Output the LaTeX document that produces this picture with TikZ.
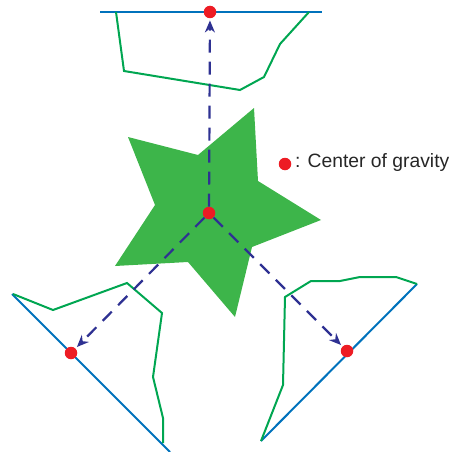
\documentclass[tikz,border=0pt]{standalone}
\usepackage{fontspec}
\setmainfont{Liberation Sans}
\usetikzlibrary{arrows.meta}
\definecolor{starfill}{RGB}{61,181,74}
\definecolor{outline}{RGB}{0,166,81}
\definecolor{surface}{RGB}{0,114,188}
\definecolor{cgred}{RGB}{237,28,36}
\definecolor{navy}{RGB}{46,49,146}
\tikzset{
  dot/.style={circle,fill=cgred,draw=none,minimum size=12.5pt,inner sep=0pt},
  shapeline/.style={draw=outline,line width=2pt,line join=miter},
  baseline/.style={draw=surface,line width=2pt},
  dasharrow/.style={draw=navy,line width=2.2pt,dash pattern=on 13pt off 9pt,
     -{Stealth[length=12pt,width=10pt]},shorten >=2pt},
  legend/.style={anchor=west,inner sep=0pt,font=\fontsize{19.3}{23}\selectfont,text=black!85}
}
\begin{document}
\begin{tikzpicture}[x=1pt,y=-1pt]
\useasboundingbox (0,0) rectangle (450,452);
% star
\fill[starfill] (254,108) -- (258,181) -- (321,220) -- (252,247) -- (235,317)
  -- (188,262) -- (115,266) -- (155,205) -- (128,137) -- (198,155) -- cycle;
% top object
\draw[baseline] (100,12) -- (322,12);
\draw[shapeline] (116,12) -- (124,71) -- (240,90) -- (264,77) -- (280,44) -- (309,12);
% left object
\draw[baseline] (12,294) -- (170,452);
\draw[shapeline] (13,294) -- (53,310) -- (127,283) -- (162,313) -- (153,377) -- (163,418) -- (163,443);
% right object
\draw[baseline] (417,284) -- (261,441);
\draw[shapeline] (417,284) -- (396,277) -- (360,277) -- (340,281) -- (311,281) -- (285,297) -- (283,385) -- (261,441);
% dots
\node[dot] (c) at (209,213) {};
\node[dot] (top) at (210,12) {};
\node[dot] (left) at (71,353) {};
\node[dot] (right) at (347,351) {};
% arrows
\draw[dasharrow] (c) -- (top);
\draw[dasharrow] (c) -- (left);
\draw[dasharrow] (c) -- (right);
% legend
\node[dot] (leg) at (285,164) {};
\node[legend] (legtext) at (295,163) {: Center of gravity};
\end{tikzpicture}
\end{document}
